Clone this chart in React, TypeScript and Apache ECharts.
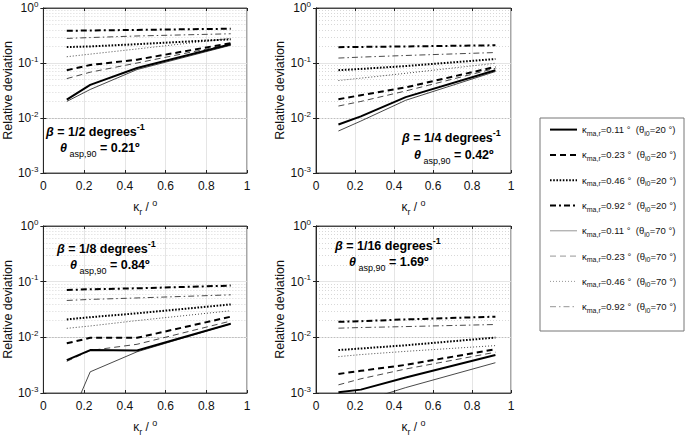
import React, { useEffect, useRef } from "react";
import * as echarts from "echarts";

// kappa_r values (degrees) where the curves are sampled
const kappaR = [0.115, 0.23, 0.46, 0.92];

// legend entries: kappa_ma,r and theta_i0
const legendKappa = ["0.11", "0.23", "0.46", "0.92", "0.11", "0.23", "0.46", "0.92"];
const legendTheta = ["20", "20", "20", "20", "70", "70", "70", "70"];

// beta = 1/2 degrees^-1  (rows follow legend order)
const betaHalf = [
  [0.0215, 0.04, 0.081, 0.22],
  [0.074, 0.092, 0.115, 0.23],
  [0.195, 0.2, 0.22, 0.27],
  [0.385, 0.39, 0.4, 0.42],
  [0.02, 0.033, 0.076, 0.21],
  [0.052, 0.068, 0.1, 0.22],
  [0.13, 0.145, 0.18, 0.28],
  [0.28, 0.29, 0.31, 0.34],
];
// beta = 1/4 degrees^-1
const betaQuarter = [
  [0.0076, 0.0107, 0.024, 0.074],
  [0.022, 0.026, 0.036, 0.085],
  [0.074, 0.078, 0.088, 0.118],
  [0.194, 0.196, 0.2, 0.21],
  [0.0058, 0.0088, 0.021, 0.07],
  [0.0165, 0.02, 0.031, 0.08],
  [0.048, 0.053, 0.065, 0.099],
  [0.123, 0.128, 0.137, 0.155],
];
// beta = 1/8 degrees^-1
const betaEighth = [
  [0.0039, 0.0059, 0.0058, 0.0175],
  [0.0078, 0.0098, 0.0098, 0.0235],
  [0.021, 0.023, 0.027, 0.039],
  [0.071, 0.073, 0.076, 0.085],
  [0.00025, 0.0024, 0.0055, 0.0175],
  [0.0037, 0.0058, 0.0075, 0.0196],
  [0.0145, 0.016, 0.02, 0.03],
  [0.046, 0.048, 0.051, 0.058],
];
// beta = 1/16 degrees^-1
const betaSixteenth = [
  [0.00103, 0.00115, 0.0019, 0.0048],
  [0.0022, 0.0025, 0.0032, 0.0061],
  [0.0059, 0.0063, 0.0072, 0.0099],
  [0.019, 0.0195, 0.021, 0.0235],
  [0.0004, 0.0007, 0.00125, 0.0035],
  [0.0014, 0.0018, 0.0027, 0.0054],
  [0.0045, 0.0049, 0.0056, 0.0071],
  [0.0146, 0.015, 0.0156, 0.017],
];

const panelBetas = ["1/2", "1/4", "1/8", "1/16"];
const panelThetaAsp = ["0.21", "0.42", "0.84", "1.69"];
const minorGrid = [
  0.002, 0.003, 0.004, 0.005, 0.006, 0.007, 0.008, 0.009,
  0.02, 0.03, 0.04, 0.05, 0.06, 0.07, 0.08, 0.09,
  0.2, 0.3, 0.4, 0.5, 0.6, 0.7, 0.8, 0.9,
];

const FONT = "'Liberation Sans', Arial, Helvetica, sans-serif";

export default function App() {
  const ref = useRef<HTMLDivElement>(null);

  useEffect(() => {
    document.body.style.margin = "0";
    if (!ref.current) return;
    const chart = echarts.init(ref.current, null, { renderer: "svg" });

    const panels = [betaHalf, betaQuarter, betaEighth, betaSixteenth];
    const grids = [
      { left: 39, top: 6, width: 208, height: 167 },
      { left: 316, top: 6, width: 195, height: 167 },
      { left: 39, top: 226, width: 208, height: 167 },
      { left: 316, top: 226, width: 195, height: 167 },
    ];
    const lineStyles = [
      { width: 2, type: "solid", color: "#000" },
      { width: 2, type: [6, 4], color: "#000" },
      { width: 2, type: [1.6, 1.6], color: "#000" },
      { width: 2, type: [6, 3, 2, 3], color: "#000" },
      { width: 0.8, type: "solid", color: "#1a1a1a" },
      { width: 0.8, type: [6, 4], color: "#1a1a1a" },
      { width: 0.8, type: [1, 2], color: "#1a1a1a" },
      { width: 0.8, type: [6, 3, 1.5, 3], color: "#1a1a1a" },
    ];
    const names = legendKappa.map((k, i) => `k${k}_t${legendTheta[i]}`);

    const xAxis: any[] = [];
    const yAxis: any[] = [];
    const series: any[] = [];

    grids.forEach((g, gi) => {
      xAxis.push({
        type: "value",
        gridIndex: gi,
        min: 0,
        max: 1,
        interval: 0.2,
        z: 1,
        axisLine: { show: true, lineStyle: { color: "#222", width: 0.8 } },
        axisTick: { show: true, inside: true, length: 3, lineStyle: { color: "#222" } },
        axisLabel: {
          show: true,
          fontSize: 12,
          fontFamily: FONT,
          color: "#111",
          margin: 7,
          formatter: (v: number) => String(Math.round(v * 10) / 10),
        },
        splitLine: { show: true, lineStyle: { color: "#dedede", width: 0.8 } },
        name: "{k|κ}{s|r}{n| / }{o|o}",
        nameLocation: "middle",
        nameGap: 25,
        nameTextStyle: {
          rich: {
            k: { fontSize: 12, fontFamily: FONT, color: "#111", lineHeight: 18 },
            s: { fontSize: 9, fontFamily: FONT, color: "#111", verticalAlign: "bottom", lineHeight: 9 },
            n: { fontSize: 12, fontFamily: FONT, color: "#111", lineHeight: 18 },
            o: { fontSize: 9, fontFamily: FONT, color: "#111", verticalAlign: "top", lineHeight: 9 },
          },
        },
      });
      xAxis.push({
        type: "value",
        gridIndex: gi,
        position: "top",
        min: 0,
        max: 1,
        interval: 0.2,
        z: 1,
        axisLine: { show: true, lineStyle: { color: "#222", width: 0.8 } },
        axisTick: { show: true, inside: true, length: 3, lineStyle: { color: "#222" } },
        axisLabel: { show: false },
        splitLine: { show: false },
      });
      yAxis.push({
        type: "log",
        gridIndex: gi,
        min: 0.001,
        max: 1,
        logBase: 10,
        z: 1,
        axisLine: { show: true, lineStyle: { color: "#222", width: 0.8 } },
        axisTick: { show: true, inside: true, length: 3, lineStyle: { color: "#222" } },
        axisLabel: {
          show: true,
          margin: 5,
          formatter: (v: number) => `{b|10}{s|${Math.round(Math.log10(v))}}`,
          rich: {
            b: { fontSize: 12, fontFamily: FONT, color: "#111", lineHeight: 16 },
            s: { fontSize: 8, fontFamily: FONT, color: "#111", verticalAlign: "top", lineHeight: 8 },
          },
        },
        splitLine: { show: true, lineStyle: { color: "#dedede", width: 0.8 } },
        name: "Relative deviation",
        nameLocation: "middle",
        nameGap: 20,
        nameTextStyle: { fontSize: 12.5, fontFamily: FONT, color: "#111" },
      });
      yAxis.push({
        type: "log",
        gridIndex: gi,
        position: "right",
        min: 0.001,
        max: 1,
        logBase: 10,
        z: 1,
        axisLine: { show: true, lineStyle: { color: "#222", width: 0.8 } },
        axisTick: { show: true, inside: true, length: 3, lineStyle: { color: "#222" } },
        axisLabel: { show: false },
        splitLine: { show: false },
      });

      // minor grid (dotted) on the log axis
      series.push({
        type: "line",
        xAxisIndex: gi * 2,
        yAxisIndex: gi * 2,
        data: [],
        silent: true,
        z: 1,
        markLine: {
          silent: true,
          z: 1,
          symbol: ["none", "none"],
          label: { show: false },
          lineStyle: { color: "#bdbdbd", width: 0.6, type: [1, 2] },
          data: minorGrid.map((v) => ({ yAxis: v })),
        },
      });

      panels[gi].forEach((row, si) => {
        const st = lineStyles[si];
        series.push({
          type: "line",
          name: names[si],
          xAxisIndex: gi * 2,
          yAxisIndex: gi * 2,
          symbol: "none",
          showSymbol: false,
          clip: true,
          z: si < 4 ? 12 : 11,
          lineStyle: { width: st.width, type: st.type, color: st.color },
          itemStyle: { color: st.color },
          data: kappaR.map((x, i) => [x, row[i]]),
        });
      });
    });

    const annPos = [
      { bx: 46, by: 132, tx: 60, ty: 148 },
      { bx: 402, by: 138, tx: 414, ty: 155 },
      { bx: 57, by: 249, tx: 70, ty: 265 },
      { bx: 335, by: 246, tx: 349, ty: 262 },
    ];
    const annRich = {
      g: { fontSize: 12.5, fontFamily: FONT, fontWeight: "bold", fontStyle: "italic", fill: "#000", lineHeight: 20 },
      b: { fontSize: 12.5, fontFamily: FONT, fontWeight: "bold", fill: "#000", lineHeight: 20 },
      sup: { fontSize: 9, fontFamily: FONT, fontWeight: "bold", fill: "#000", verticalAlign: "top", lineHeight: 9 },
      sub: { fontSize: 9, fontFamily: FONT, fill: "#000", verticalAlign: "bottom", lineHeight: 6 },
    };
    const graphic: any[] = [];
    annPos.forEach((p, i) => {
      graphic.push({
        type: "text",
        x: p.bx,
        y: p.by,
        z: 20,
        style: {
          text: `{g|β}{b| = ${panelBetas[i]} degrees}{sup|-1}`,
          rich: annRich,
          verticalAlign: "middle",
          align: "left",
        },
      });
      graphic.push({
        type: "text",
        x: p.tx,
        y: p.ty,
        z: 20,
        style: {
          text: `{g|θ}{sub| asp,90}{b| = ${panelThetaAsp[i]}º}`,
          rich: annRich,
          verticalAlign: "middle",
          align: "left",
        },
      });
    });
    graphic.push({
      type: "rect",
      shape: { x: 540, y: 118, width: 144, height: 213 },
      style: { fill: "none", stroke: "#777", lineWidth: 1 },
      z: 1,
    });

    chart.setOption({
      animation: false,
      backgroundColor: "#fff",
      grid: grids.map((g) => ({
        ...g,
        show: true,
        borderColor: "#222",
        borderWidth: 0.8,
        backgroundColor: "transparent",
      })),
      xAxis,
      yAxis,
      series,
      graphic,
      legend: {
        orient: "vertical",
        left: 549,
        top: 124,
        padding: 0,
        itemWidth: 27,
        itemHeight: 14,
        itemGap: 12.7,
        data: names.map((n, i) => ({
          name: n,
          itemStyle: { opacity: 0 },
          lineStyle: {
            width: i < 4 ? 2 : 0.9,
            type: lineStyles[i].type,
            color: i < 4 ? "#000" : "#8a8a8a",
          },
        })),
        selectedMode: false,
        itemStyle: { opacity: 0 },
        formatter: (name: string) => {
          const i = names.indexOf(name);
          return `{k|κ}{s|ma,r}{t|=${legendKappa[i]} °  (}{k|θ}{s|i0}{t|=${legendTheta[i]} °)}`;
        },
        textStyle: {
          rich: {
            k: { fontSize: 9.5, fontFamily: FONT, color: "#111", lineHeight: 14 },
            t: { fontSize: 9.5, fontFamily: FONT, color: "#111", lineHeight: 14 },
            s: { fontSize: 7, fontFamily: FONT, color: "#111", verticalAlign: "bottom", lineHeight: 6 },
          },
        },
      },
    });

    return () => chart.dispose();
  }, []);

  return (
    <div
      ref={ref}
      style={{ position: "absolute", left: 0, top: 0, width: 685, height: 442 }}
    />
  );
}
